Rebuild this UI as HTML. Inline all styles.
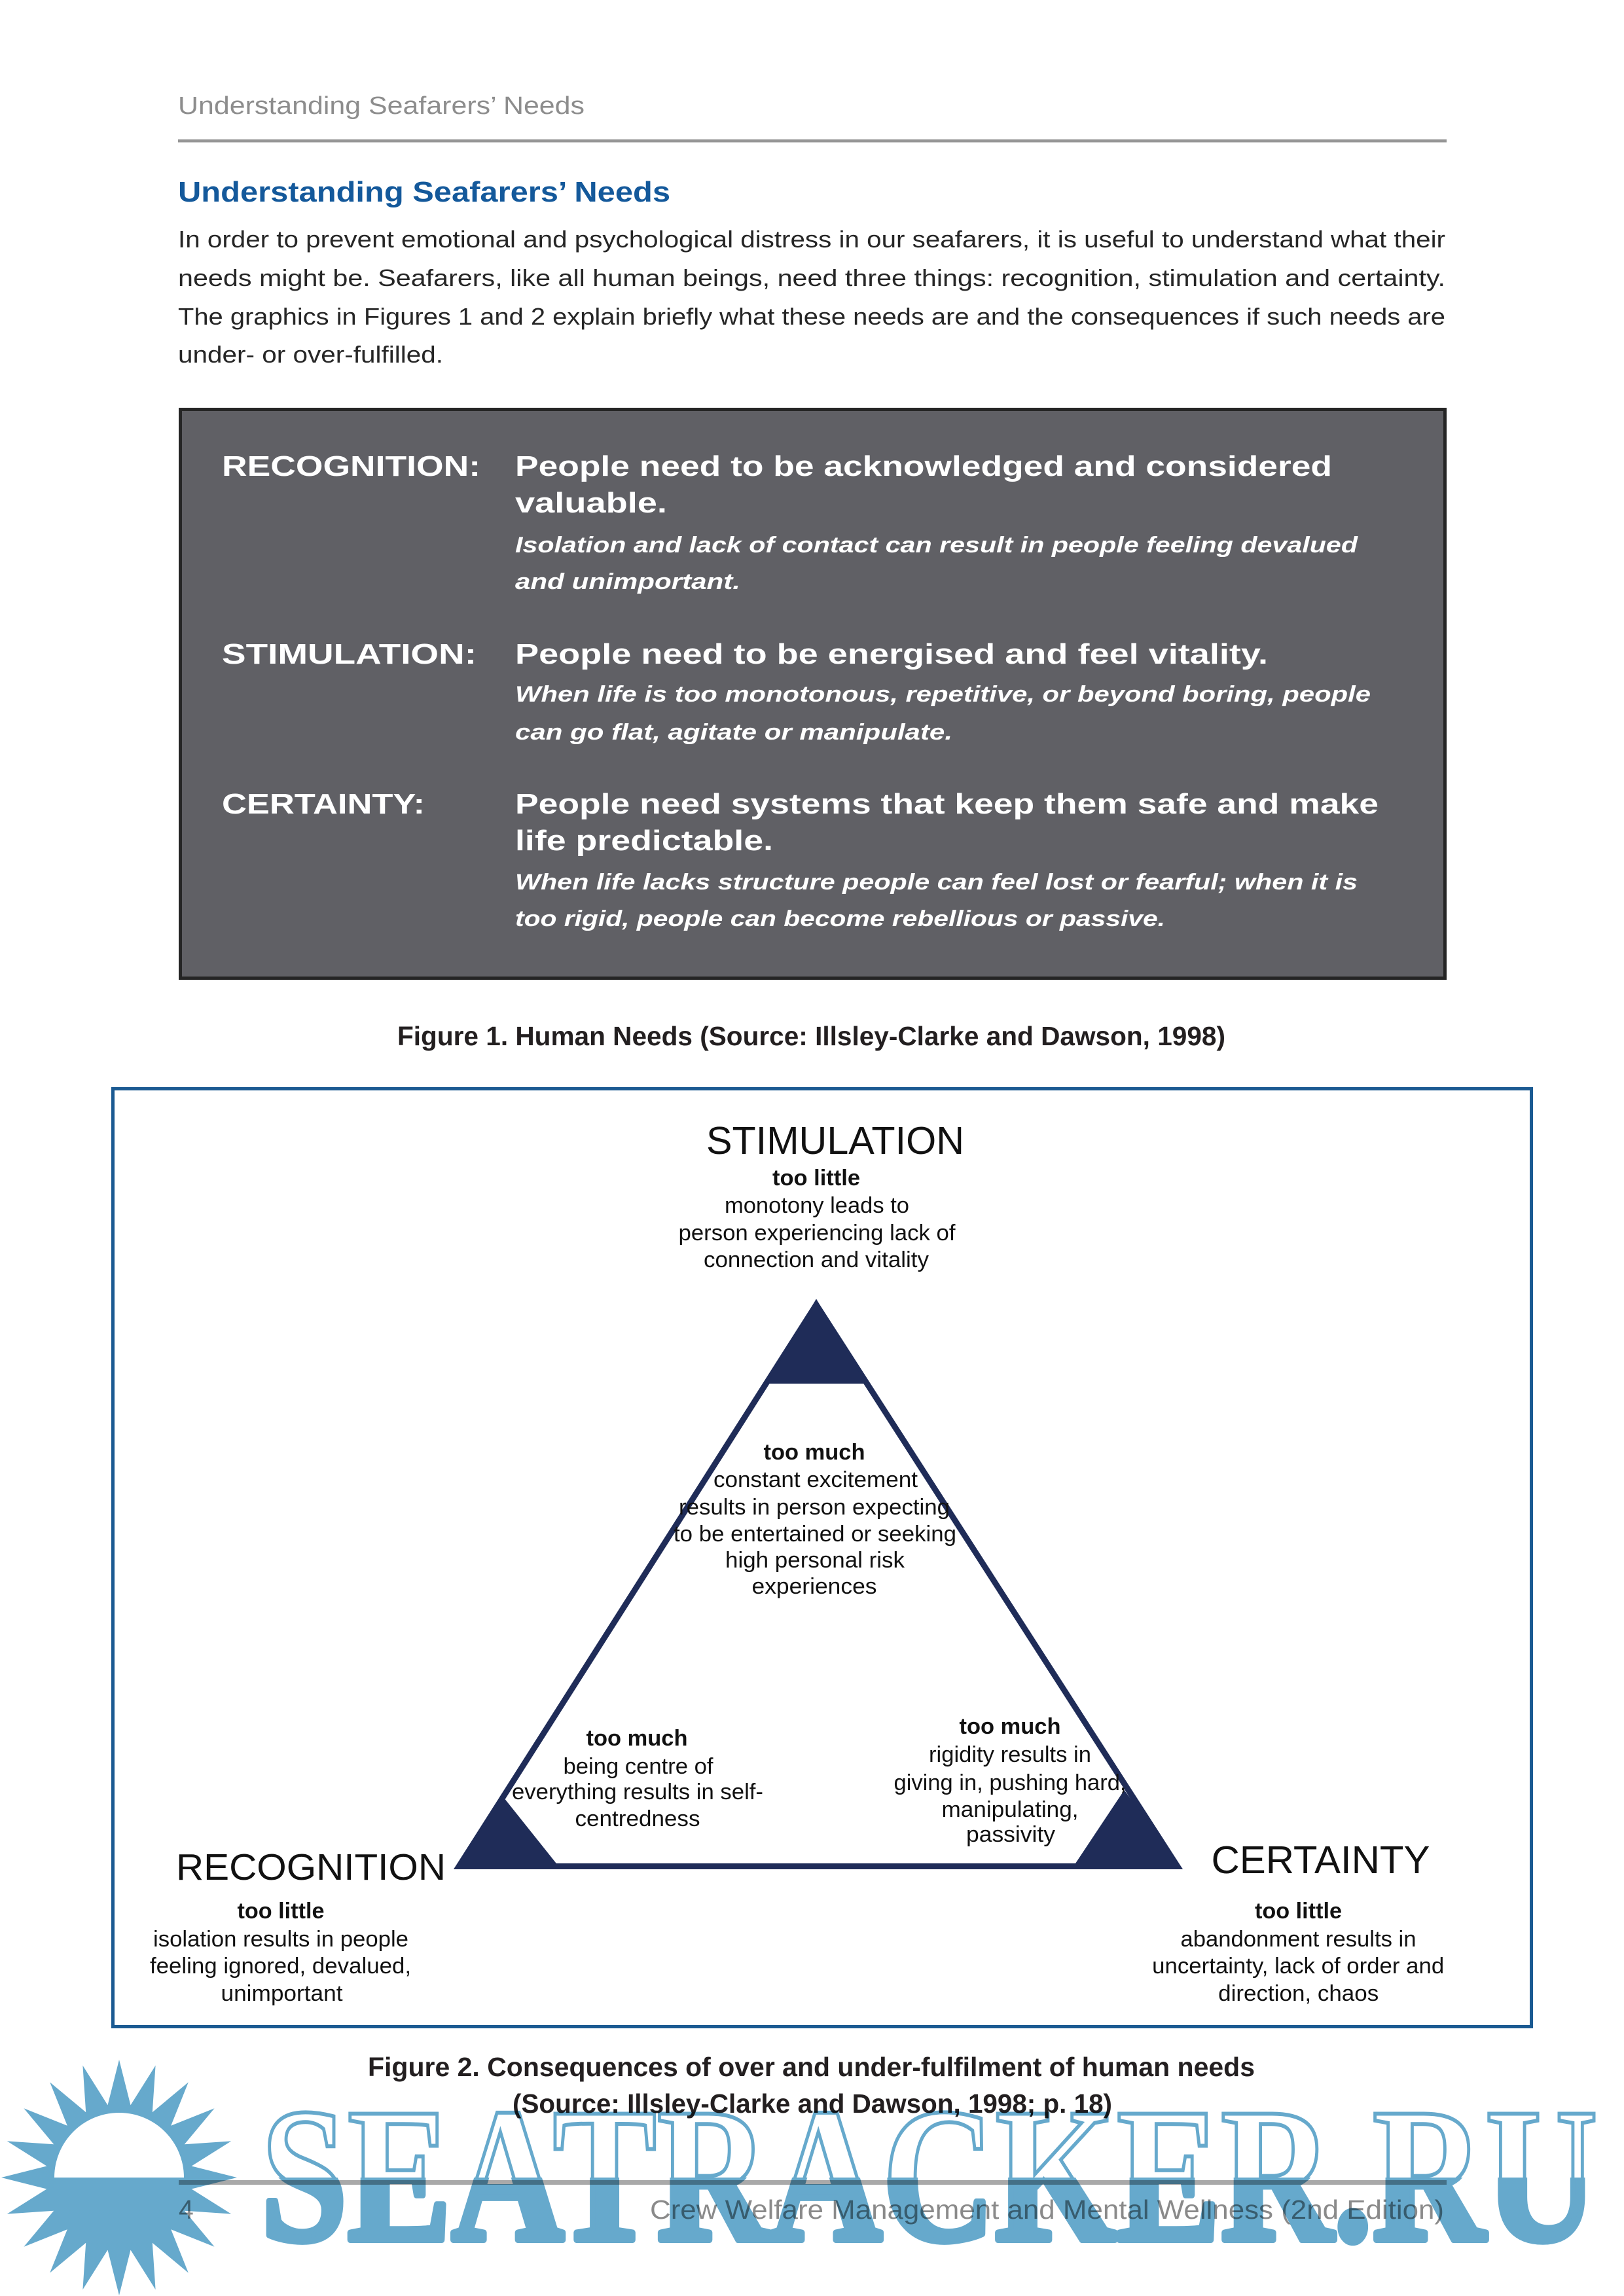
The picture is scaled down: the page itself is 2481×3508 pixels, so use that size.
<!DOCTYPE html>
<html>
<head>
<meta charset="utf-8">
<style>
  html,body{margin:0;padding:0;background:#fff;}
  body{width:2481px;height:3508px;overflow:hidden;}
  svg{display:block;}
  .s{font-family:"Liberation Sans",Arial,sans-serif;}
  .sr{font-family:"Liberation Serif","Times New Roman",serif;}
</style>
</head>
<body>
<svg xmlns="http://www.w3.org/2000/svg" width="2481" height="3508" viewBox="0 0 2481 3508">
  <rect x="0" y="0" width="2481" height="3508" fill="#ffffff"/>

  <!-- Running header -->
  <text class="s" x="272" y="174" font-size="38" fill="#8d8d8d" textLength="621" lengthAdjust="spacingAndGlyphs">Understanding Seafarers’ Needs</text>
  <rect x="272" y="213" width="1938" height="4.5" fill="#969696"/>

  <!-- Section heading -->
  <text class="s" x="272" y="308" font-size="44" font-weight="bold" fill="#14599b" textLength="752" lengthAdjust="spacingAndGlyphs">Understanding Seafarers’ Needs</text>

  <!-- Body paragraph -->
  <g class="s" font-size="36.5" fill="#262626">
    <text x="272" y="378" textLength="1936" lengthAdjust="spacingAndGlyphs">In order to prevent emotional and psychological distress in our seafarers, it is useful to understand what their</text>
    <text x="272" y="437" textLength="1936" lengthAdjust="spacingAndGlyphs">needs might be. Seafarers, like all human beings, need three things: recognition, stimulation and certainty.</text>
    <text x="272" y="496" textLength="1936" lengthAdjust="spacingAndGlyphs">The graphics in Figures 1 and 2 explain briefly what these needs are and the consequences if such needs are</text>
    <text x="272" y="554" textLength="405" lengthAdjust="spacingAndGlyphs">under- or over-fulfilled.</text>
  </g>

  <!-- Figure 1 dark box -->
  <rect x="275.5" y="625.5" width="1932" height="869" fill="#606065" stroke="#252525" stroke-width="5"/>
  <g class="s" fill="#ffffff">
    <g font-size="44" font-weight="bold">
      <text x="339" y="727" textLength="395" lengthAdjust="spacingAndGlyphs">RECOGNITION:</text>
      <text x="787" y="727" textLength="1248" lengthAdjust="spacingAndGlyphs">People need to be acknowledged and considered</text>
      <text x="787" y="783" textLength="232" lengthAdjust="spacingAndGlyphs">valuable.</text>

      <text x="339" y="1014" textLength="389" lengthAdjust="spacingAndGlyphs">STIMULATION:</text>
      <text x="787" y="1014" textLength="1150" lengthAdjust="spacingAndGlyphs">People need to be energised and feel vitality.</text>

      <text x="339" y="1243" textLength="310" lengthAdjust="spacingAndGlyphs">CERTAINTY:</text>
      <text x="787" y="1243" textLength="1319" lengthAdjust="spacingAndGlyphs">People need systems that keep them safe and make</text>
      <text x="787" y="1299" textLength="394" lengthAdjust="spacingAndGlyphs">life predictable.</text>
    </g>
    <g font-size="34.5" font-weight="bold" font-style="italic">
      <text x="787" y="844" textLength="1287" lengthAdjust="spacingAndGlyphs">Isolation and lack of contact can result in people feeling devalued</text>
      <text x="787" y="900" textLength="344" lengthAdjust="spacingAndGlyphs">and unimportant.</text>
      <text x="787" y="1072" textLength="1307" lengthAdjust="spacingAndGlyphs">When life is too monotonous, repetitive, or beyond boring, people</text>
      <text x="787" y="1130" textLength="668" lengthAdjust="spacingAndGlyphs">can go flat, agitate or manipulate.</text>
      <text x="787" y="1359" textLength="1287" lengthAdjust="spacingAndGlyphs">When life lacks structure people can feel lost or fearful; when it is</text>
      <text x="787" y="1415" textLength="993" lengthAdjust="spacingAndGlyphs">too rigid, people can become rebellious or passive.</text>
    </g>
  </g>

  <!-- Figure 1 caption -->
  <text class="s" x="1239.5" y="1597" text-anchor="middle" font-size="41" font-weight="bold" fill="#231f20" textLength="1265" lengthAdjust="spacingAndGlyphs">Figure 1. Human Needs (Source: Illsley-Clarke and Dawson, 1998)</text>

  <!-- Figure 2 frame -->
  <rect x="172.5" y="1663.5" width="2167" height="1433" fill="none" stroke="#1b5a92" stroke-width="5"/>

  <!-- Triangle -->
  <polygon points="1247,1993.4 701.2,2851.5 1798.8,2851.5" fill="none" stroke="#1f2c58" stroke-width="9" stroke-linejoin="miter"/>
  <polygon points="1247,1984.5 1172,2114 1322,2114" fill="#1f2c58"/>
  <polygon points="693,2856 766,2742 857,2856" fill="#1f2c58"/>
  <polygon points="1807,2856 1717.5,2735 1637,2856" fill="#1f2c58"/>

  <!-- Triangle labels -->
  <g class="s" fill="#111111" text-anchor="middle">
    <!-- STIMULATION -->
    <text x="1276" y="1763" font-size="59" textLength="394" lengthAdjust="spacingAndGlyphs">STIMULATION</text>
    <text x="1247" y="1811" font-size="34.5" font-weight="bold" textLength="134" lengthAdjust="spacingAndGlyphs">too little</text>
    <g font-size="34.5">
      <text x="1248" y="1853" textLength="282" lengthAdjust="spacingAndGlyphs">monotony leads to</text>
      <text x="1248" y="1895" textLength="423" lengthAdjust="spacingAndGlyphs">person experiencing lack of</text>
      <text x="1247" y="1936" textLength="344" lengthAdjust="spacingAndGlyphs">connection and vitality</text>
    </g>

    <!-- centre too much -->
    <text x="1244" y="2230" font-size="34.5" font-weight="bold" textLength="155" lengthAdjust="spacingAndGlyphs">too much</text>
    <g font-size="34.5">
      <text x="1246" y="2272" textLength="312" lengthAdjust="spacingAndGlyphs">constant excitement</text>
      <text x="1244" y="2314" textLength="414" lengthAdjust="spacingAndGlyphs">results in person expecting</text>
      <text x="1245" y="2355" textLength="432" lengthAdjust="spacingAndGlyphs">to be entertained or seeking</text>
      <text x="1245" y="2395" textLength="274" lengthAdjust="spacingAndGlyphs">high personal risk</text>
      <text x="1244" y="2435" textLength="191" lengthAdjust="spacingAndGlyphs">experiences</text>
    </g>

    <!-- left too much -->
    <text x="973" y="2667" font-size="34.5" font-weight="bold" textLength="155" lengthAdjust="spacingAndGlyphs">too much</text>
    <g font-size="34.5">
      <text x="975" y="2710" textLength="229" lengthAdjust="spacingAndGlyphs">being centre of</text>
      <text x="974" y="2749" textLength="384" lengthAdjust="spacingAndGlyphs">everything results in self-</text>
      <text x="974" y="2790" textLength="191" lengthAdjust="spacingAndGlyphs">centredness</text>
    </g>

    <!-- right too much -->
    <text x="1543" y="2649" font-size="34.5" font-weight="bold" textLength="155" lengthAdjust="spacingAndGlyphs">too much</text>
    <g font-size="34.5">
      <text x="1543" y="2692" textLength="248" lengthAdjust="spacingAndGlyphs">rigidity results in</text>
      <text x="1543" y="2735" textLength="355" lengthAdjust="spacingAndGlyphs">giving in, pushing hard,</text>
      <text x="1543" y="2776" textLength="209" lengthAdjust="spacingAndGlyphs">manipulating,</text>
      <text x="1544" y="2814" textLength="136" lengthAdjust="spacingAndGlyphs">passivity</text>
    </g>

    <!-- RECOGNITION -->
    <text x="475" y="2872" font-size="57" textLength="412" lengthAdjust="spacingAndGlyphs">RECOGNITION</text>
    <text x="429" y="2931" font-size="34.5" font-weight="bold" textLength="133" lengthAdjust="spacingAndGlyphs">too little</text>
    <g font-size="34.5">
      <text x="429" y="2974" textLength="390" lengthAdjust="spacingAndGlyphs">isolation results in people</text>
      <text x="428.5" y="3015" textLength="399" lengthAdjust="spacingAndGlyphs">feeling ignored, devalued,</text>
      <text x="430.5" y="3057" textLength="186" lengthAdjust="spacingAndGlyphs">unimportant</text>
    </g>

    <!-- CERTAINTY -->
    <text x="2017.5" y="2862" font-size="59" textLength="334" lengthAdjust="spacingAndGlyphs">CERTAINTY</text>
    <text x="1983.5" y="2931" font-size="34.5" font-weight="bold" textLength="133" lengthAdjust="spacingAndGlyphs">too little</text>
    <g font-size="34.5">
      <text x="1983.5" y="2974" textLength="360" lengthAdjust="spacingAndGlyphs">abandonment results in</text>
      <text x="1983.2" y="3015" textLength="446" lengthAdjust="spacingAndGlyphs">uncertainty, lack of order and</text>
      <text x="1983.7" y="3057" textLength="245" lengthAdjust="spacingAndGlyphs">direction, chaos</text>
    </g>
  </g>

  <!-- Figure 2 caption -->
  <g class="s" font-size="41" font-weight="bold" fill="#231f20" text-anchor="middle">
    <text x="1239.5" y="3172" textLength="1355" lengthAdjust="spacingAndGlyphs">Figure 2. Consequences of over and under-fulfilment of human needs</text>
    <text x="1241" y="3228" textLength="916" lengthAdjust="spacingAndGlyphs">(Source: Illsley-Clarke and Dawson, 1998; p. 18)</text>
  </g>

  <!-- Footer -->
  <rect x="273" y="3331" width="1937" height="7" fill="#a9a9a9"/>
  <text class="s" x="273" y="3390" font-size="41" fill="#8a8a8a">4</text>
  <text class="s" x="993" y="3390" font-size="41" fill="#8a8a8a" textLength="1213" lengthAdjust="spacingAndGlyphs">Crew Welfare Management and Mental Wellness (2nd Edition)</text>

  <!-- Watermark -->
  <defs>
    <clipPath id="wmTop"><rect x="0" y="3100" width="2481" height="227"/></clipPath>
    <clipPath id="wmBot"><rect x="0" y="3327" width="2481" height="181"/></clipPath>
  </defs>
  <g style="mix-blend-mode:multiply">
    <polygon fill="#66a9cc" points="182,3147 199.5,3216.4 237.6,3155.8 232.8,3227.2 287.8,3181.4 261.2,3247.8 327.6,3221.2 281.8,3276.2 353.2,3271.4 292.6,3309.5 362,3327 292.6,3344.5 353.2,3382.6 281.8,3377.8 327.6,3432.8 261.2,3406.2 287.8,3472.6 232.8,3426.8 237.6,3498.2 199.5,3437.6 182,3507 164.5,3437.6 126.4,3498.2 131.2,3426.8 76.2,3472.6 102.8,3406.2 36.4,3432.8 82.2,3377.8 10.8,3382.6 71.4,3344.5 2,3327 71.4,3309.5 10.8,3271.4 82.2,3276.2 36.4,3221.2 102.8,3247.8 76.2,3181.4 131.2,3227.2 126.4,3155.8 164.5,3216.4"/>
    <path d="M83,3327 A99,99 0 0 1 281,3327 Z" fill="#ffffff"/>
    <text class="sr" x="398" y="3422" font-size="294" font-weight="bold" fill="none" stroke="#66a9cc" stroke-width="6" textLength="2043" lengthAdjust="spacingAndGlyphs" clip-path="url(#wmTop)">SEATRACKER.RU</text>
    <text class="sr" x="398" y="3422" font-size="294" font-weight="bold" fill="#66a9cc" stroke="#66a9cc" stroke-width="10" stroke-linejoin="round" textLength="2043" lengthAdjust="spacingAndGlyphs" clip-path="url(#wmBot)">SEATRACKER.RU</text>
  </g>
</svg>
</body>
</html>
